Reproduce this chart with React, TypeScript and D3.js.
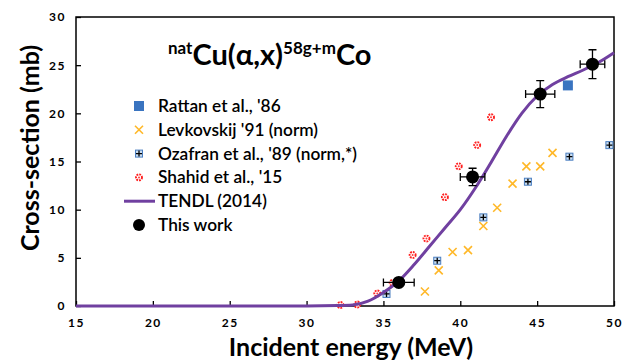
import React, { useRef, useEffect } from 'react';
import * as d3 from 'd3';

// data
const rattan = [{ x: 47.0, y: 22.9 }];
const levkovskij = [
  { x: 37.7, y: 1.5 }, { x: 38.6, y: 3.7 }, { x: 39.5, y: 5.6 }, { x: 40.5, y: 5.8 },
  { x: 41.5, y: 8.3 }, { x: 42.4, y: 10.2 }, { x: 43.4, y: 12.7 }, { x: 44.3, y: 14.5 },
  { x: 45.2, y: 14.5 }, { x: 46.0, y: 15.9 },
];
const ozafran = [
  { x: 35.2, y: 1.25 }, { x: 38.5, y: 4.7 }, { x: 41.5, y: 9.2 },
  { x: 44.4, y: 12.9 }, { x: 47.1, y: 15.5 }, { x: 49.7, y: 16.7 },
];
const shahid = [
  { x: 32.2, y: 0.1 }, { x: 33.3, y: 0.15 }, { x: 34.6, y: 1.3 }, { x: 35.6, y: 2.4 },
  { x: 36.9, y: 5.3 }, { x: 37.8, y: 7.0 }, { x: 39.0, y: 11.3 }, { x: 39.9, y: 14.5 },
  { x: 41.1, y: 16.7 }, { x: 42.0, y: 19.6 },
];
const tendl = [
  { x: 15, y: 0 }, { x: 20, y: 0 }, { x: 25, y: 0 }, { x: 30, y: 0.01 }, { x: 32, y: 0.04 },
  { x: 33, y: 0.1 }, { x: 34, y: 0.5 }, { x: 35, y: 1.4 }, { x: 36, y: 2.6 }, { x: 37, y: 4.3 },
  { x: 38, y: 6.2 }, { x: 39, y: 8.1 }, { x: 40, y: 10.0 }, { x: 41, y: 12.3 }, { x: 42, y: 14.9 },
  { x: 43, y: 17.6 }, { x: 44, y: 20.0 }, { x: 45, y: 21.8 }, { x: 46, y: 23.0 }, { x: 47, y: 23.8 },
  { x: 48, y: 24.5 }, { x: 49, y: 25.3 }, { x: 50, y: 26.3 },
];
const thisWork = [
  { x: 36.0, y: 2.45, dx: 1.0, dy: 0.3 },
  { x: 40.8, y: 13.4, dx: 0.8, dy: 0.9 },
  { x: 45.2, y: 22.0, dx: 0.95, dy: 1.4 },
  { x: 48.6, y: 25.1, dx: 0.8, dy: 1.5 },
];
const xTicks = [15, 20, 25, 30, 35, 40, 45, 50];
const yTicks = [0, 5, 10, 15, 20, 25, 30];
const legendLabels = [
  "Rattan et al., '86",
  "Levkovskij '91 (norm)",
  "Ozafran et al., '89 (norm,*)",
  "Shahid et al., '15",
  'TENDL (2014)',
  'This work',
];

const W = 622;
const H = 360;
const margin = { top: 17, right: 8, bottom: 54, left: 76 };
const font = 'Lato, "Open Sans", sans-serif';
const purple = '#7040a0';
const orange = '#ffb828';

const App: React.FC = () => {
  const svgRef = useRef<SVGSVGElement | null>(null);

  useEffect(() => {
    document.body.style.margin = '0';
    const svg = d3.select(svgRef.current);
    svg.selectAll('*').remove();

    const iw = W - margin.left - margin.right;
    const ih = H - margin.top - margin.bottom;
    const x = d3.scaleLinear().domain([15, 50]).range([0, iw]);
    const y = d3.scaleLinear().domain([0, 30]).range([ih, 0]);

    const g = svg.append('g').attr('transform', `translate(${margin.left},${margin.top})`);

    // axes, ticks inward
    const xAxis = g.append('g').attr('transform', `translate(0,${ih})`)
      .call(d3.axisBottom(x).tickValues(xTicks).tickSize(-5).tickPadding(12).tickFormat(d3.format('d')));
    const yAxis = g.append('g')
      .call(d3.axisLeft(y).tickValues(yTicks).tickSize(-5).tickPadding(10).tickFormat(d3.format('d')));
    [xAxis, yAxis].forEach(a => {
      a.select('.domain').remove();
      a.selectAll('line').attr('stroke', '#000').attr('stroke-width', 1.3);
      a.selectAll('text').attr('font-family', font).attr('font-weight', 'bold')
        .attr('font-size', 12).attr('letter-spacing', 1.5).attr('fill', '#000');
    });

    g.append('rect').attr('width', iw).attr('height', ih)
      .attr('fill', 'none').attr('stroke', '#000').attr('stroke-width', 1.5);

    // Levkovskij crosses
    const cross = (sel: any, cx: number, cy: number, s: number) => {
      sel.append('path')
        .attr('d', `M${cx - s},${cy - s}L${cx + s},${cy + s}M${cx - s},${cy + s}L${cx + s},${cy - s}`)
        .attr('stroke', orange).attr('stroke-width', 1.6).attr('fill', 'none');
    };
    const ozMark = (sel: any, cx: number, cy: number) => {
      sel.append('rect').attr('x', cx - 3.5).attr('y', cy - 3.5).attr('width', 7).attr('height', 7)
        .attr('fill', '#c8dcf0').attr('stroke', '#4a7ec0').attr('stroke-width', 1);
      sel.append('path').attr('d', `M${cx - 3},${cy}L${cx + 3},${cy}M${cx},${cy - 3}L${cx},${cy + 3}`)
        .attr('stroke', '#000').attr('stroke-width', 1.3);
    };
    const shMark = (sel: any, cx: number, cy: number) => {
      sel.append('circle').attr('cx', cx).attr('cy', cy).attr('r', 3)
        .attr('fill', '#fff').attr('stroke', '#ff2020').attr('stroke-width', 1.9)
        .attr('stroke-dasharray', '1.8,1');
      sel.append('circle').attr('cx', cx).attr('cy', cy).attr('r', 1).attr('fill', '#ff4040');
    };

    levkovskij.forEach(d => cross(g, x(d.x), y(d.y), 4));
    ozafran.forEach(d => ozMark(g, x(d.x), y(d.y)));
    shahid.forEach(d => shMark(g, x(d.x), y(d.y)));
    g.selectAll('.rattan').data(rattan).enter().append('rect')
      .attr('x', d => x(d.x) - 5).attr('y', d => y(d.y) - 5)
      .attr('width', 10).attr('height', 10).attr('fill', '#3a74c0');

    const line = d3.line<{ x: number; y: number }>()
      .x(d => x(d.x)).y(d => y(d.y)).curve(d3.curveMonotoneX);
    g.append('path').datum(tendl).attr('d', line)
      .attr('fill', 'none').attr('stroke', purple).attr('stroke-width', 3);

    // this work with error bars
    thisWork.forEach(d => {
      const cx = x(d.x), cy = y(d.y);
      const x0 = x(d.x - d.dx), x1 = x(d.x + d.dx);
      const y0 = y(d.y - d.dy), y1 = y(d.y + d.dy);
      const path = `M${x0},${cy}L${x1},${cy}M${x0},${cy - 4}L${x0},${cy + 4}M${x1},${cy - 4}L${x1},${cy + 4}`
        + `M${cx},${y0}L${cx},${y1}M${cx - 4},${y0}L${cx + 4},${y0}M${cx - 4},${y1}L${cx + 4},${y1}`;
      g.append('path').attr('d', path).attr('stroke', '#000').attr('stroke-width', 1.3).attr('fill', 'none');
      g.append('circle').attr('cx', cx).attr('cy', cy).attr('r', 6.5).attr('fill', '#000');
    });

    // legend
    const lg = svg.append('g');
    const ly0 = 106, ldy = 23.8, mx = 139;
    legendLabels.forEach((t, i) => {
      const ly = ly0 + i * ldy;
      if (i === 0) lg.append('rect').attr('x', mx - 5).attr('y', ly - 5).attr('width', 10).attr('height', 10).attr('fill', '#3a74c0');
      if (i === 1) cross(lg, mx, ly, 4);
      if (i === 2) ozMark(lg, mx, ly);
      if (i === 3) shMark(lg, mx, ly);
      if (i === 4) lg.append('line').attr('x1', 124).attr('x2', 155).attr('y1', ly).attr('y2', ly)
        .attr('stroke', purple).attr('stroke-width', 3);
      if (i === 5) lg.append('circle').attr('cx', mx).attr('cy', ly).attr('r', 6).attr('fill', '#000');
      lg.append('text').attr('x', 158).attr('y', ly).attr('dy', '0.35em')
        .attr('font-family', font).attr('font-weight', 600)
        .attr('font-size', 17.3).attr('fill', '#000').text(t);
    });

    // title
    const title = svg.append('text').attr('x', 168).attr('y', 65)
      .attr('font-family', font).attr('font-weight', 'bold').attr('fill', '#000');
    title.append('tspan').attr('font-size', 17).attr('dy', -11).text('nat');
    title.append('tspan').attr('font-size', 29).attr('dy', 11).text('Cu(α,x)');
    title.append('tspan').attr('font-size', 17).attr('dy', -11).text('58g+m');
    title.append('tspan').attr('font-size', 29).attr('dy', 11).text('Co');

    // axis titles
    svg.append('text').attr('x', 351).attr('y', 356)
      .attr('text-anchor', 'middle').attr('font-family', font).attr('font-weight', 'bold')
      .attr('font-size', 25).attr('fill', '#000').text('Incident energy (MeV)');
    svg.append('text').attr('transform', `translate(39,148) rotate(-90)`)
      .attr('text-anchor', 'middle').attr('font-family', font).attr('font-weight', 'bold')
      .attr('font-size', 25).attr('fill', '#000').text('Cross-section (mb)');
  }, []);

  return <svg ref={svgRef} width={W} height={H} style={{ display: 'block', background: '#fff' }} />;
};

export default App;
